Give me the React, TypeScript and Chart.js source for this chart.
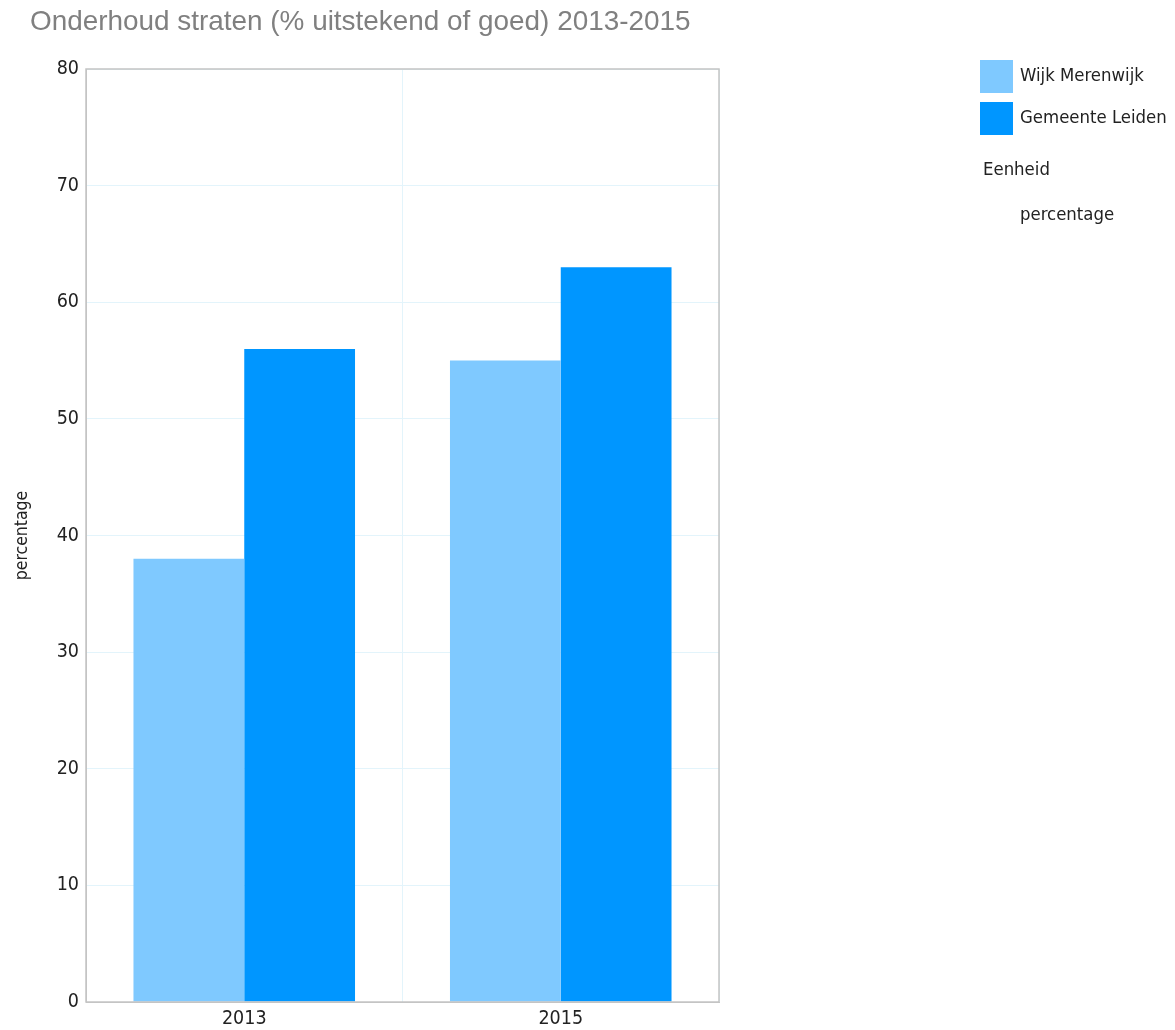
import React, { useEffect, useRef } from "react";
import { Chart, registerables } from "chart.js";

Chart.register(...registerables);

const titleText = "Onderhoud straten (% uitstekend of goed) 2013-2015";
const categories = ["2013", "2015"];
const seriesNames = ["Wijk Merenwijk", "Gemeente Leiden"];
const wijkValues = [38, 55];
const leidenValues = [56, 63];
const seriesColors = ["#7fc9ff", "#0096ff"];
const unitLabel = "Eenheid";
const unitValue = "percentage";
const yAxisTitle = "percentage";
const yMin = 0;
const yMax = 80;
const yStep = 10;

const sideFont = "'DejaVu Sans Condensed', sans-serif";
const tickFont = "'DejaVu Sans Condensed', sans-serif";

const decorPlugin = {
  id: "decor",
  afterDraw(chart: any) {
    const ctx = chart.ctx;
    const area = chart.chartArea;
    ctx.save();
    ctx.strokeStyle = "#c4c4c4";
    ctx.lineWidth = 1.5;
    ctx.strokeRect(area.left, area.top, area.right - area.left, area.bottom - area.top);
    ctx.fillStyle = "#808080";
    ctx.font = "27.9px 'Liberation Sans', Arial, sans-serif";
    ctx.textBaseline = "middle";
    ctx.textAlign = "left";
    ctx.fillText(titleText, 30, 22);
    ctx.font = "18.4px " + sideFont;
    const ds = chart.data.datasets;
    ds.forEach((d: any, i: number) => {
      const y = 60 + i * 42;
      ctx.fillStyle = d.backgroundColor;
      ctx.fillRect(980, y, 33, 33);
      ctx.fillStyle = "#222222";
      ctx.fillText(d.label, 1020, y + 16);
    });
    ctx.fillText(unitLabel, 983, 170);
    ctx.fillText(unitValue, 1020, 215);
    ctx.restore();
  },
};

export default function App() {
  const ref = useRef<HTMLCanvasElement | null>(null);
  useEffect(() => {
    if (!ref.current) return;
    const chart = new Chart(ref.current, {
      type: "bar",
      data: {
        labels: categories,
        datasets: [
          { label: seriesNames[0], data: wijkValues, backgroundColor: seriesColors[0] },
          { label: seriesNames[1], data: leidenValues, backgroundColor: seriesColors[1] },
        ],
      },
      options: {
        animation: false,
        responsive: false,
        devicePixelRatio: 1,
        layout: { padding: { top: 69, right: 456, bottom: 0, left: 0 } },
        plugins: {
          legend: { display: false },
          title: { display: false },
          tooltip: { enabled: false },
        },
        datasets: { bar: { categoryPercentage: 0.7, barPercentage: 1.0 } },
        scales: {
          x: {
            grid: { color: "#e3f4fb", drawTicks: false, offset: true },
            border: { color: "#c4c4c4" },
            ticks: { color: "#222222", font: { family: tickFont, size: 19.5 }, padding: 5 },
            afterFit: (s: any) => { s.height = 28; },
          },
          y: {
            min: yMin,
            max: yMax,
            ticks: { stepSize: yStep, color: "#222222", font: { family: tickFont, size: 19.5 }, padding: 7 },
            grid: { color: "#e3f4fb", drawTicks: false },
            border: { color: "#c4c4c4" },
            title: {
              display: true,
              text: yAxisTitle,
              color: "#222222",
              font: { family: sideFont, size: 17.5 },
              padding: { top: 12, bottom: 0 },
            },
            afterFit: (s: any) => { s.width = 86; },
          },
        },
      },
      plugins: [decorPlugin],
    });
    return () => chart.destroy();
  }, []);
  return (
    <div style={{ position: "absolute", left: 0, top: 0, width: 1175, height: 1030, background: "#fff" }}>
      <canvas ref={ref} width={1175} height={1030} style={{ width: 1175, height: 1030 }} />
    </div>
  );
}
